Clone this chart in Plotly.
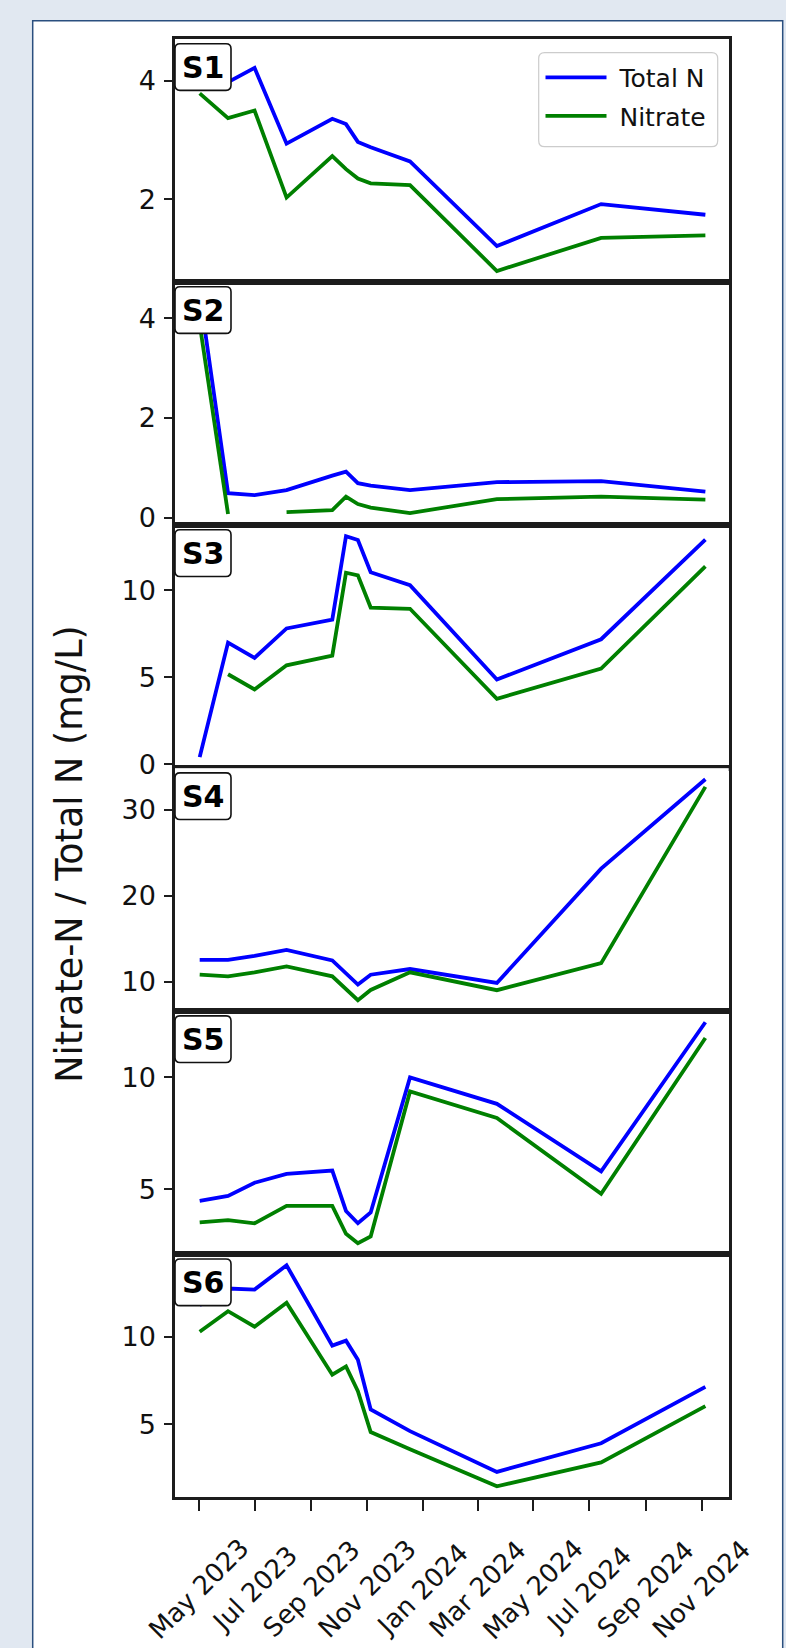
import plotly.graph_objects as go

W, H = 786, 1648

# ---------------- data ----------------
dates = ["2023-05-02", "2023-06-02", "2023-07-01", "2023-08-05", "2023-09-24",
         "2023-10-09", "2023-10-22", "2023-11-05", "2023-12-18", "2024-03-22",
         "2024-07-14", "2024-11-05"]

sites = ["S1", "S2", "S3", "S4", "S5", "S6"]

s1_total = [4.52, 3.98, 4.22, 2.94, 3.36, 3.27, 2.97, 2.88, 2.64, 1.21, 1.92, 1.74]
s1_nitrate = [3.79, 3.37, 3.50, 2.03, 2.73, 2.51, 2.35, 2.27, 2.24, 0.79, 1.35, 1.39]

s2_total = [4.50, 0.49, 0.45, 0.55, 0.84, 0.92, 0.69, 0.64, 0.55, 0.71, 0.73, 0.52]
s2_nitrate = [3.88, 0.07, None, 0.11, 0.15, 0.42, 0.27, 0.20, 0.09, 0.37, 0.42, 0.36]

s3_total = [0.41, 6.99, 6.11, 7.80, 8.31, 13.10, 12.88, 11.03, 10.28, 4.87, 7.18, 12.90]
s3_nitrate = [None, 5.17, 4.30, 5.68, 6.24, 11.00, 10.85, 9.00, 8.93, 3.76, 5.49, 11.37]

s4_total = [12.55, 12.55, 13.02, 13.71, 12.48, 10.98, 9.67, 10.82, 11.48, 9.86, 23.16, 33.56]
s4_nitrate = [10.82, 10.63, 11.10, 11.79, 10.63, 9.09, 7.86, 9.05, 11.10, 9.02, 12.17, 32.67]

s5_total = [4.49, 4.71, 5.30, 5.69, 5.84, 4.04, 3.49, 3.97, 10.00, 8.82, 5.81, 12.46]
s5_nitrate = [3.53, 3.63, 3.49, 4.27, 4.27, 3.02, 2.60, 2.90, 9.37, 8.19, 4.81, 11.76]

s6_total = [11.80, 12.74, 12.68, 14.06, 9.49, 9.77, 8.68, 5.85, 4.62, 2.30, 3.93, 7.14]
s6_nitrate = [10.28, 11.45, 10.57, 11.93, 7.83, 8.30, 6.89, 4.57, 3.59, 1.48, 2.84, 6.04]

totals = [s1_total, s2_total, s3_total, s4_total, s5_total, s6_total]
nitrates = [s1_nitrate, s2_nitrate, s3_nitrate, s4_nitrate, s5_nitrate, s6_nitrate]

s1_yticks = [2, 4]
s2_yticks = [0, 2, 4]
s3_yticks = [0, 5, 10]
s4_yticks = [10, 20, 30]
s5_yticks = [5, 10]
s6_yticks = [5, 10]
yticks = [s1_yticks, s2_yticks, s3_yticks, s4_yticks, s5_yticks, s6_yticks]

xtick_dates = ["2023-05-01", "2023-07-01", "2023-09-01", "2023-11-01", "2024-01-01",
               "2024-03-01", "2024-05-01", "2024-07-01", "2024-09-01", "2024-11-01"]
xtick_labels = ["May 2023", "Jul 2023", "Sep 2023", "Nov 2023", "Jan 2024",
                "Mar 2024", "May 2024", "Jul 2024", "Sep 2024", "Nov 2024"]
x_range = ["2023-04-05", "2024-11-30 12:00"]

series_names = ["Total N", "Nitrate"]
series_colors = ["#0000ff", "#008000"]
y_title = "Nitrate-N / Total N (mg/L)"

# ---------------- layout geometry (pixels) ----------------
FONT = "DejaVu Sans"
INK = "#111111"
SPINE = "#1c1c1c"
BG = "#e1e8f1"
top_px, bot_px = 39.3, 1508.3
left_px, right_px = 175.0, 728.7
panel_h = (bot_px - top_px) / 6


def px_x(p):
    return p / W


def px_y(p):
    return 1 - p / H


def rounded_rect(x0, y0, x1, y1, r):
    pts = [
        f"M {px_x(x0 + r)},{px_y(y0)}",
        f"L {px_x(x1 - r)},{px_y(y0)}",
        f"Q {px_x(x1)},{px_y(y0)} {px_x(x1)},{px_y(y0 + r)}",
        f"L {px_x(x1)},{px_y(y1 - r)}",
        f"Q {px_x(x1)},{px_y(y1)} {px_x(x1 - r)},{px_y(y1)}",
        f"L {px_x(x0 + r)},{px_y(y1)}",
        f"Q {px_x(x0)},{px_y(y1)} {px_x(x0)},{px_y(y1 - r)}",
        f"L {px_x(x0)},{px_y(y0 + r)}",
        f"Q {px_x(x0)},{px_y(y0)} {px_x(x0 + r)},{px_y(y0)}",
        "Z",
    ]
    return " ".join(pts)


fig = go.Figure()
layout = {}
annotations = []
shapes = [dict(type="rect", xref="paper", yref="paper",
               x0=px_x(32.7), x1=px_x(782.7), y0=-0.05, y1=px_y(21),
               fillcolor="white", line=dict(color="#2a4f7f", width=1.5),
               layer="below")]

for i, site in enumerate(sites):
    k = i + 1
    xa = "x" if k == 1 else f"x{k}"
    ya = "y" if k == 1 else f"y{k}"
    for j, ser in enumerate([totals[i], nitrates[i]]):
        fig.add_trace(go.Scatter(
            x=dates, y=ser, mode="lines",
            line=dict(color=series_colors[j], width=3.8),
            name="\u00a0" + series_names[j], legendgroup=series_names[j],
            showlegend=(i == 0), xaxis=xa, yaxis=ya,
            connectgaps=False, hoverinfo="skip"))

    vals = [v for v in totals[i] + nitrates[i] if v is not None]
    lo, hi = min(vals), max(vals)
    pad = 0.05 * (hi - lo)

    p_top = top_px + i * panel_h
    y_top = px_y(p_top)
    y_bot = px_y(p_top + panel_h)
    bottom = (k == 6)

    layout["xaxis" if k == 1 else f"xaxis{k}"] = dict(
        domain=[px_x(left_px), px_x(right_px)], anchor=ya, type="date",
        range=x_range, showgrid=False, zeroline=False,
        showline=True, mirror=True, linecolor=SPINE, linewidth=2.5,
        tickvals=xtick_dates if bottom else None,
        ticks="outside" if bottom else "", ticklen=11, tickwidth=1.6,
        tickcolor=SPINE, showticklabels=False)
    layout["yaxis" if k == 1 else f"yaxis{k}"] = dict(
        domain=[y_bot, y_top], anchor=xa, range=[lo - pad, hi + pad],
        tickvals=yticks[i], ticktext=[str(t) for t in yticks[i]],
        ticks="outside", ticklen=8, tickwidth=1.6, tickcolor=SPINE,
        showline=True, mirror=True, linecolor=SPINE, linewidth=2.5,
        showgrid=False, zeroline=False, ticklabelstandoff=3,
        tickfont=dict(family=FONT, size=27, color=INK))

    # rounded label box + bold site label
    bx0, by0 = left_px, p_top + 4.7
    bx1, by1 = bx0 + 56, by0 + 47
    shapes.append(dict(type="path", xref="paper", yref="paper",
                       path=rounded_rect(bx0, by0, bx1, by1, 5),
                       fillcolor="white", line=dict(color="#111", width=1.6),
                       layer="above"))
    annotations.append(dict(
        xref="paper", yref="paper", x=px_x((bx0 + bx1) / 2),
        y=px_y((by0 + by1) / 2), xanchor="center", yanchor="middle",
        showarrow=False, text=f"<b>{site}</b>",
        font=dict(family=FONT, size=30, color="#000")))

# legend frame (rounded)
shapes.append(dict(type="path", xref="paper", yref="paper",
                   path=rounded_rect(538.7, 53, 717.7, 147.7, 6),
                   fillcolor="white", line=dict(color="#cccccc", width=1.2),
                   layer="above"))

for d, lab in zip(xtick_dates, xtick_labels):
    annotations.append(dict(
        xref="x6", yref="paper", x=d, y=px_y(1601),
        xanchor="center", yanchor="middle", showarrow=False,
        text=lab, textangle=-45, font=dict(family=FONT, size=26, color=INK)))

annotations.append(dict(
    xref="paper", yref="paper", x=px_x(70), y=px_y(861),
    xanchor="center", yanchor="middle", showarrow=False,
    text=y_title, textangle=-90, font=dict(family=FONT, size=36.5, color=INK)))

fig.update_layout(
    width=W, height=H, margin=dict(l=0, r=0, t=0, b=0, pad=0),
    paper_bgcolor=BG, plot_bgcolor="white",
    font=dict(family=FONT, color=INK),
    annotations=annotations,
    shapes=shapes,
    legend=dict(x=px_x(540.5), y=px_y(55), xanchor="left", yanchor="top",
                bgcolor="rgba(0,0,0,0)", borderwidth=0,
                font=dict(family=FONT, size=25, color=INK),
                tracegroupgap=3, itemwidth=61),
    showlegend=True,
    **layout)

fig.write_html(
    "out.html", config={"displayModeBar": False},
    post_script=("document.body.style.margin='0px';"
                 "document.body.style.padding='0px';"
                 f"document.body.style.background='{BG}';"))
